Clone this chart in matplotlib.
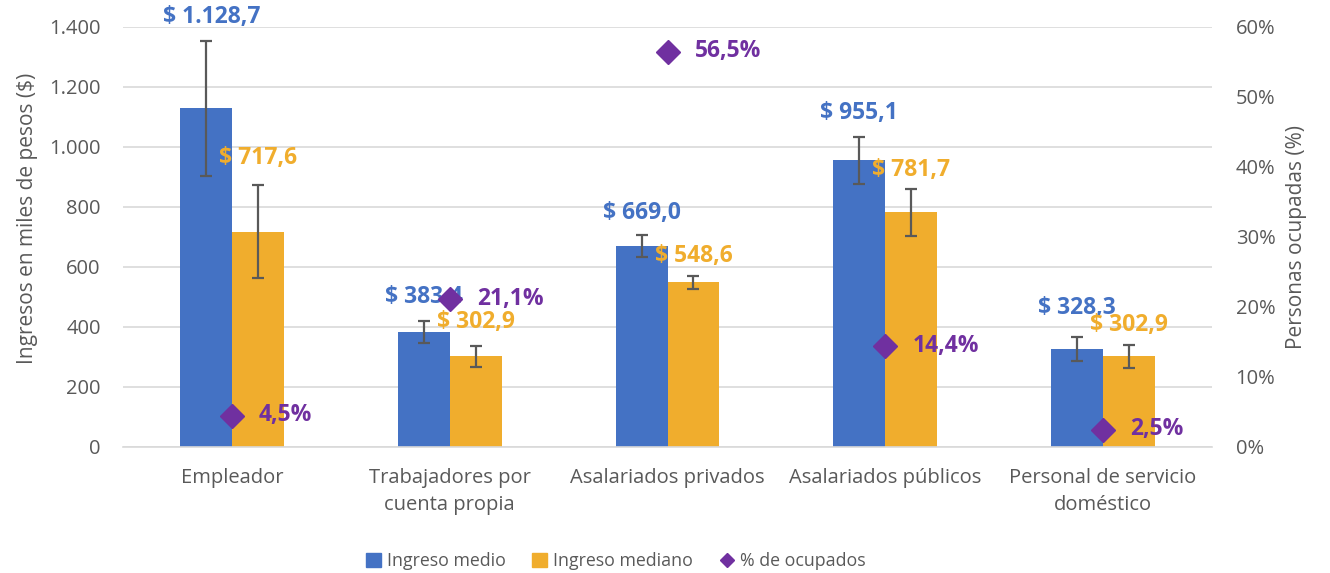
import matplotlib
matplotlib.use("Agg")
import matplotlib.pyplot as plt
from matplotlib.lines import Line2D
from matplotlib.patches import Patch
import numpy as np

plt.rcParams['font.family'] = ['Open Sans', 'DejaVu Sans']

categories = ["Empleador", "Trabajadores por\ncuenta propia", "Asalariados privados",
              "Asalariados públicos", "Personal de servicio\ndoméstico"]
ingreso_medio = [1128.7, 383.4, 669.0, 955.1, 328.3]
ingreso_mediano = [717.6, 302.9, 548.6, 781.7, 302.9]
err_medio = [225, 38, 37, 77, 40]
err_mediano = [155, 35, 22, 77, 38]
pct_ocupados = [4.5, 21.1, 56.5, 14.4, 2.5]
medio_labels = ["$ 1.128,7", "$ 383,4", "$ 669,0", "$ 955,1", "$ 328,3"]
mediano_labels = ["$ 717,6", "$ 302,9", "$ 548,6", "$ 781,7", "$ 302,9"]
pct_labels = ["4,5%", "21,1%", "56,5%", "14,4%", "2,5%"]
left_ticks = [0, 200, 400, 600, 800, 1000, 1200, 1400]
left_ticklabels = ["0", "200", "400", "600", "800", "1.000", "1.200", "1.400"]
right_ticks = [0, 10, 20, 30, 40, 50, 60]
right_ticklabels = ["0%", "10%", "20%", "30%", "40%", "50%", "60%"]

BLUE = "#4472C4"
GOLD = "#F0AD2D"
PURPLE = "#7030A0"
GRAY = "#595959"

fig = plt.figure(figsize=(13.30, 5.73), dpi=100)
ax = fig.add_axes([123/1330, 1 - 447/573, (1212-123)/1330, (447-27)/573])
ax2 = ax.twinx()

x = np.arange(len(categories))
w = 52/218

ax.bar(x - w/2, ingreso_medio, w, color=BLUE, zorder=2,
       yerr=err_medio, error_kw=dict(ecolor=GRAY, elinewidth=1.6, capsize=4.5, capthick=1.6, zorder=3))
ax.bar(x + w/2, ingreso_mediano, w, color=GOLD, zorder=2,
       yerr=err_mediano, error_kw=dict(ecolor=GRAY, elinewidth=1.6, capsize=4.5, capthick=1.6, zorder=3))

ax.set_ylim(0, 1400)
ax.set_xlim(-0.5, len(categories) - 0.5)
ax.set_yticks(left_ticks)
ax.set_yticklabels(left_ticklabels)
ax.set_xticks(x)
ax.set_xticklabels(categories, linespacing=1.5)
ax.grid(axis='y', color='#D9D9D9', linewidth=1.2, zorder=0)
ax.set_axisbelow(True)
for s in ['top', 'right', 'left']:
    ax.spines[s].set_visible(False)
ax.spines['bottom'].set_color('#D9D9D9')
ax.spines['bottom'].set_linewidth(1.2)
ax.tick_params(axis='both', length=0, labelsize=14.5, labelcolor=GRAY)
ax.tick_params(axis='y', pad=16)
ax.tick_params(axis='x', pad=15)
ax.set_ylabel("Ingresos en miles de pesos ($)", fontsize=15, color=GRAY, labelpad=8)
ax.yaxis.label.set_y((447 - 218) / 420)

ax2.plot(x, pct_ocupados, linestyle='none', marker='D', markersize=12,
         color=PURPLE, zorder=5)
ax2.set_ylim(0, 60)
ax2.set_yticks(right_ticks)
ax2.set_yticklabels(right_ticklabels)
ax2.tick_params(axis='y', length=0, labelsize=14.5, labelcolor=GRAY, pad=17)
for s in ['top', 'right', 'left', 'bottom']:
    ax2.spines[s].set_visible(False)
ax2.set_ylabel("Personas ocupadas (%)", fontsize=15, color=GRAY, labelpad=8)

# label offsets in pixels (dx, dy) relative to bar top / marker
medio_off = [(6, 91), (0, 35), (0, 33), (0, 47), (0, 41)]
mediano_off = [(0, 74), (0, 34), (0, 26), (0, 42), (0, 31)]
for i in range(len(categories)):
    ax.annotate(medio_labels[i], (x[i] - w/2, ingreso_medio[i]),
                xytext=medio_off[i], textcoords='offset pixels',
                ha='center', va='center', color=BLUE, fontsize=16.5, fontweight='bold', zorder=6)
    ax.annotate(mediano_labels[i], (x[i] + w/2, ingreso_mediano[i]),
                xytext=mediano_off[i], textcoords='offset pixels',
                ha='center', va='center', color=GOLD, fontsize=16.5, fontweight='bold', zorder=6)
    ax2.annotate(pct_labels[i], (x[i], pct_ocupados[i]),
                 xytext=(27, 0), textcoords='offset pixels',
                 ha='left', va='center', color=PURPLE, fontsize=16.5, fontweight='bold', zorder=6)

handles = [Patch(color=BLUE, label="Ingreso medio"),
           Patch(color=GOLD, label="Ingreso mediano"),
           Line2D([], [], linestyle='none', marker='D', markersize=7, color=PURPLE, label="% de ocupados")]
fig.legend(handles=handles, loc='center', bbox_to_anchor=(616/1330, 1 - 561/573), ncol=3,
           frameon=False, fontsize=12.8, labelcolor=GRAY, handlelength=0.8, handleheight=0.8,
           handletextpad=0.35, columnspacing=1.5)

fig.savefig("out.png", dpi=100)
